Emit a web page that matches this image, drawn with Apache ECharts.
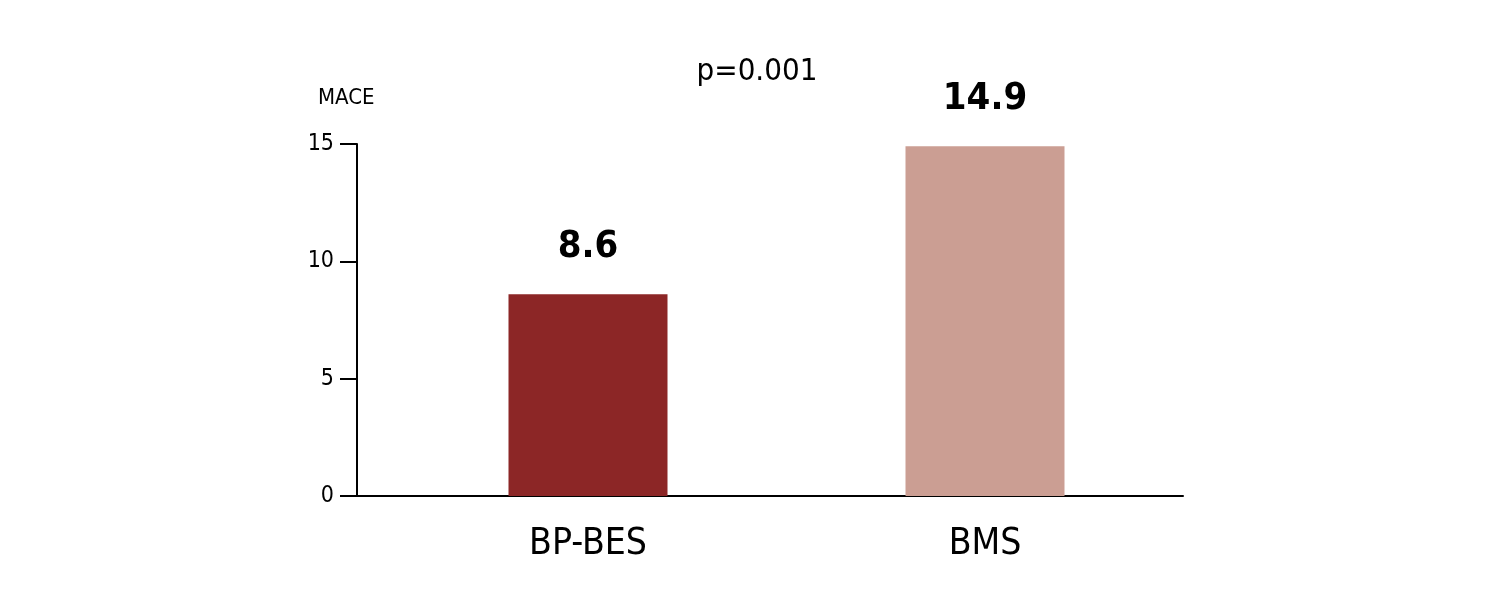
<!DOCTYPE html>
<html><head><meta charset="utf-8">
<script src="https://cdn.jsdelivr.net/npm/echarts@6/dist/echarts.min.js"></script>
<style>html,body{margin:0;padding:0;background:#fff}#c{width:1512px;height:612px}</style>
</head><body><div id="c"></div>
<script>
const categories = ['BP-BES', 'BMS'];
const maceValues = [8.6, 14.9];
const barColors = ['#8C2626', '#CB9E93'];
const yTicks = { min: 0, max: 15, interval: 5 };
const yName = 'MACE';
const pText = 'p=0.001';

const FONT = '"Liberation Sans Narrow", "DejaVu Sans Condensed", "Roboto Condensed", sans-serif';
const chart = echarts.init(document.getElementById('c'), null, { renderer: 'canvas' });
chart.setOption({
  animation: false,
  backgroundColor: '#fff',
  title: [
    { text: pText, left: 752, top: 51, textAlign: 'center',
      textStyle: { fontFamily: FONT, fontSize: 31, fontWeight: 'normal', color: '#000' } },
    { text: yName, left: 313, top: 82,
      textStyle: { fontFamily: FONT, fontSize: 22, fontWeight: 'normal', color: '#000' } }
  ],
  grid: [
    { left: 389.5, right: 328.5, top: 144, bottom: 116 },
    { left: 357, right: 329, top: 144, bottom: 116 }
  ],
  xAxis: [
    { type: 'category', gridIndex: 0, data: categories,
      axisLine: { show: false }, axisTick: { show: false },
      axisLabel: { fontFamily: FONT, fontSize: 37, color: '#000', margin: 30 } },
    { type: 'value', gridIndex: 1, min: 0, max: 1,
      axisLine: { show: true, lineStyle: { color: '#000', width: 2 } },
      axisTick: { show: false }, axisLabel: { show: false }, splitLine: { show: false } }
  ],
  yAxis: [
    { type: 'value', gridIndex: 0, min: yTicks.min, max: yTicks.max, interval: yTicks.interval,
      offset: 32.5,
      axisLine: { show: true, lineStyle: { color: '#000', width: 2 } },
      axisTick: { show: true, length: 17, lineStyle: { color: '#000', width: 2 } },
      axisLabel: { fontFamily: FONT, fontSize: 23, color: '#000', margin: 23 },
      splitLine: { show: false } },
    { type: 'value', gridIndex: 1, min: 0, max: 1, show: false }
  ],
  series: [{
    type: 'bar', xAxisIndex: 0, yAxisIndex: 0,
    barWidth: 159,
    data: maceValues.map((v, i) => ({ value: v, itemStyle: { color: barColors[i] } })),
    label: { show: true, position: 'top', distance: 28,
      fontFamily: FONT, fontSize: 38, fontWeight: 'bold', color: '#000',
      formatter: p => p.value.toFixed(1) }
  }]
});
</script></body></html>
